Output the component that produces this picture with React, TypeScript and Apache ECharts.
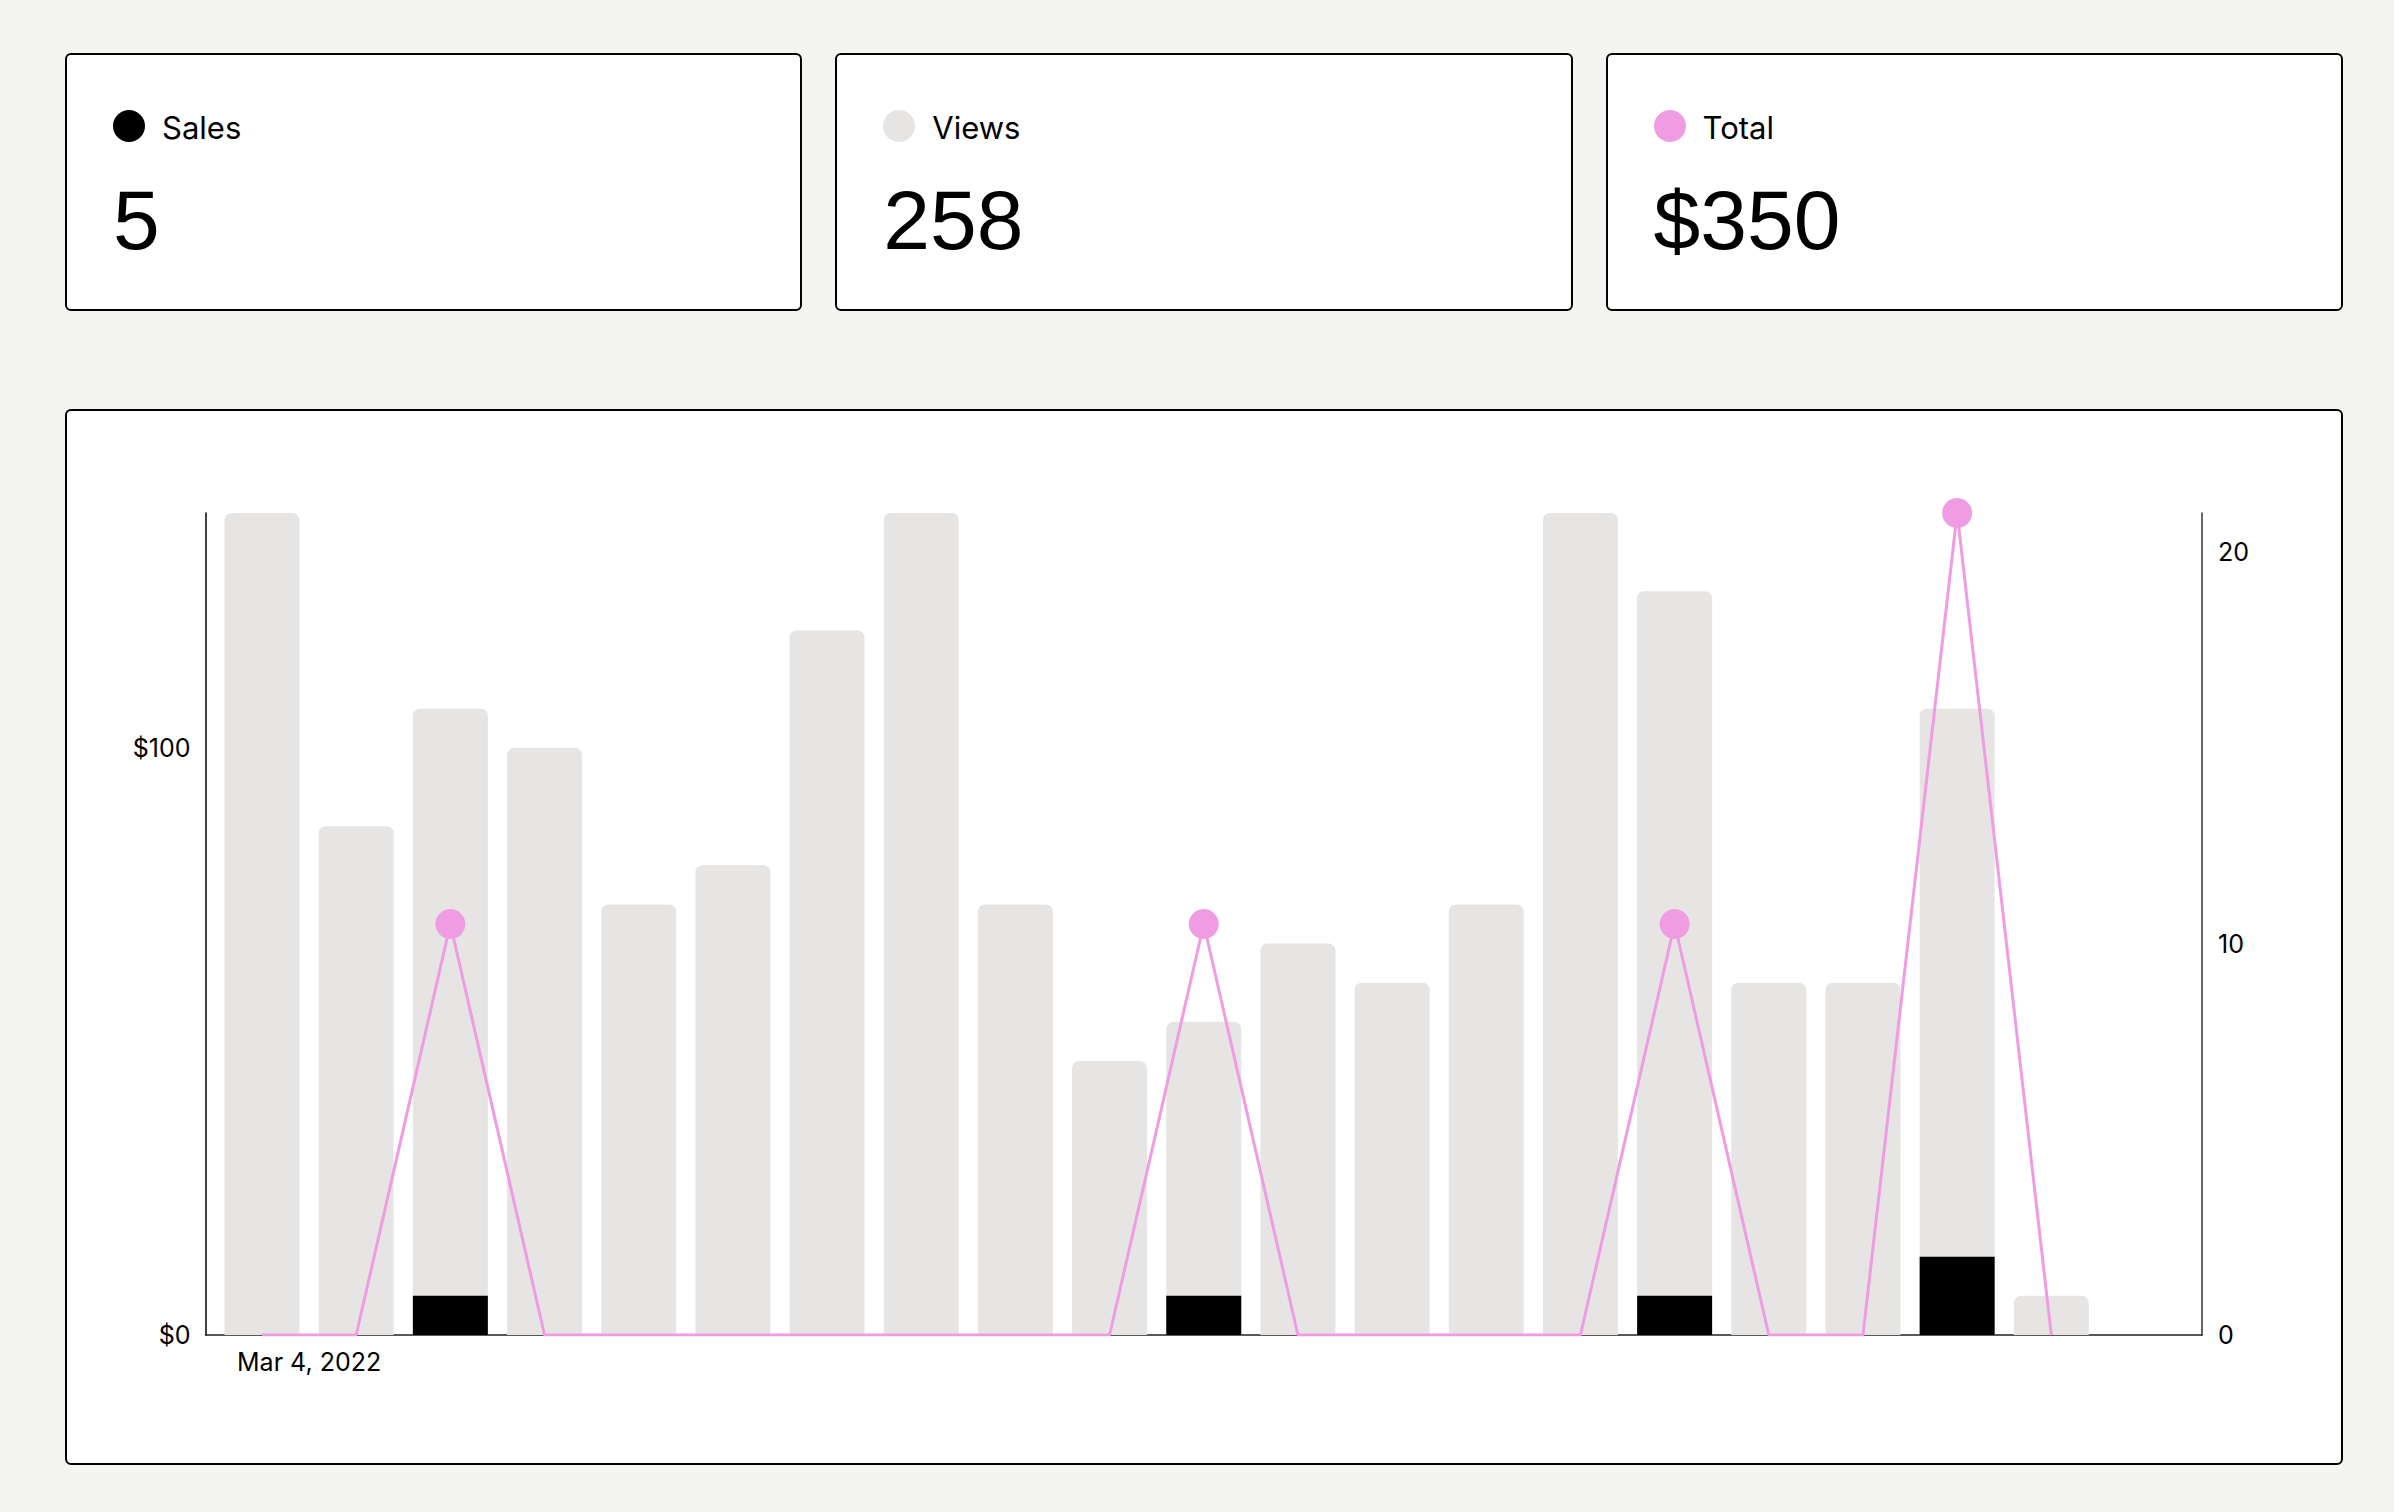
import React, { useEffect, useRef } from "react";
import * as echarts from "echarts";

// ---- data ----
const dayIndex = [0, 1, 2, 3, 4, 5, 6, 7, 8, 9, 10, 11, 12, 13, 14, 15, 16, 17, 18, 19];
const views = [21, 13, 16, 15, 11, 12, 18, 21, 11, 7, 8, 10, 9, 11, 21, 19, 9, 9, 16, 1];
const sales = [0, 0, 1, 0, 0, 0, 0, 0, 0, 0, 1, 0, 0, 0, 0, 1, 0, 0, 2, 0];
const totals = [0, 0, 70, 0, 0, 0, 0, 0, 0, 0, 70, 0, 0, 0, 0, 70, 0, 0, 140, 0];
const xLabelValues = [0.5];
const xLabelTexts = ["Mar 4, 2022"];
const leftTicks = [0, 100];
const rightTicks = [0, 10, 20];

const PINK = "#f09ce2";
const GRAY = "#e6e5e3";
const FONT = "Inter, 'Noto Sans', sans-serif";
const NUM_FONT = "'Liberation Sans', Arial, sans-serif";

const sum = (a: number[]) => a.reduce((s, v) => s + v, 0);
const summary = [
  { label: "Sales", value: String(sum(sales)), color: "#000000" },
  { label: "Views", value: String(sum(views)), color: GRAY },
  { label: "Total", value: "$" + sum(totals), color: PINK },
];

const CARD_LEFT = 65;
const CARD_W = 737.3;
const CARD_GAP = 33;

function Card({ left, item }: { left: number; item: (typeof summary)[number] }) {
  return (
    <div
      style={{
        position: "absolute",
        left,
        top: 53,
        width: CARD_W,
        height: 258,
        boxSizing: "border-box",
        border: "2px solid #000",
        borderRadius: 6,
        background: "#fff",
      }}
    >
      <div
        style={{
          position: "absolute",
          left: 46,
          top: 55,
          width: 32,
          height: 32,
          borderRadius: "50%",
          background: item.color,
        }}
      />
      <div
        style={{
          position: "absolute",
          left: 95,
          top: 57,
          fontSize: 31,
          lineHeight: "31px",
          fontFamily: FONT,
          color: "#000",
          whiteSpace: "nowrap",
        }}
      >
        {item.label}
      </div>
      <div
        style={{
          position: "absolute",
          left: 46,
          top: 123,
          fontSize: 84,
          lineHeight: "84px",
          fontFamily: NUM_FONT,
          color: "#000",
          whiteSpace: "nowrap",
        }}
      >
        {item.value}
      </div>
    </div>
  );
}

export default function App() {
  const ref = useRef<HTMLDivElement>(null);

  useEffect(() => {
    if (!ref.current) return;
    const chart = echarts.init(ref.current, null, { renderer: "svg" });
    const axisLabelBase = { color: "#000", fontSize: 25, fontFamily: FONT };
    chart.setOption({
      animation: false,
      textStyle: { fontFamily: FONT },
      grid: { left: 205.5, right: 192, top: 513, bottom: 177, containLabel: false },
      xAxis: {
        type: "value",
        min: -0.6,
        max: 20.6,
        splitLine: { show: false },
        axisTick: { show: false },
        axisLine: { show: true, onZero: false, lineStyle: { color: "#222", width: 1.5 } },
        axisLabel: {
          ...axisLabelBase,
          margin: 14,
          customValues: xLabelValues,
          formatter: (v: number) => {
            const i = xLabelValues.findIndex((x) => Math.abs(x - v) < 1e-6);
            return i >= 0 ? xLabelTexts[i] : "";
          },
        },
      },
      yAxis: [
        {
          type: "value",
          min: 0,
          max: 140,
          position: "left",
          splitLine: { show: false },
          axisTick: { show: false },
          axisLine: { show: true, onZero: false, lineStyle: { color: "#000", width: 1.5 } },
          axisLabel: {
            ...axisLabelBase,
            margin: 15,
            customValues: leftTicks,
            formatter: (v: number) => "$" + v,
          },
        },
        {
          type: "value",
          min: 0,
          max: 21,
          position: "right",
          splitLine: { show: false },
          axisTick: { show: false },
          axisLine: { show: true, onZero: false, lineStyle: { color: "#333", width: 1.5 } },
          axisLabel: {
            ...axisLabelBase,
            margin: 16,
            customValues: rightTicks,
            formatter: (v: number) => String(v),
          },
        },
      ],
      series: [
        {
          type: "bar",
          name: "Views",
          yAxisIndex: 1,
          data: views.map((v, i) => [dayIndex[i], v]),
          barWidth: 75,
          barGap: "-100%",
          itemStyle: { color: GRAY, borderRadius: [7, 7, 0, 0] },
          z: 2,
        },
        {
          type: "bar",
          name: "Sales",
          yAxisIndex: 1,
          data: sales.map((v, i) => [dayIndex[i], v]),
          barWidth: 75,
          barGap: "-100%",
          itemStyle: { color: "#000" },
          z: 3,
        },
        {
          type: "line",
          name: "Total",
          yAxisIndex: 0,
          data: totals.map((v, i) => [dayIndex[i], v]),
          lineStyle: { color: PINK, width: 3 },
          itemStyle: { color: PINK, borderWidth: 0 },
          symbol: "circle",
          symbolSize: (val: number[]) => (val[1] > 0 ? 30 : 0),
          showSymbol: true,
          z: 5,
        },
      ],
    });
    return () => chart.dispose();
  }, []);

  return (
    <div
      style={{
        position: "fixed",
        left: 0,
        top: 0,
        width: 2394,
        height: 1512,
        background: "#f4f4f0",
        overflow: "hidden",
      }}
    >
      {summary.map((item, i) => (
        <Card key={item.label} left={CARD_LEFT + i * (CARD_W + CARD_GAP)} item={item} />
      ))}
      <div
        style={{
          position: "absolute",
          left: 65,
          top: 409,
          width: 2278,
          height: 1056,
          boxSizing: "border-box",
          border: "2px solid #000",
          borderRadius: 6,
          background: "#fff",
        }}
      />
      <div ref={ref} style={{ position: "absolute", left: 0, top: 0, width: 2394, height: 1512 }} />
    </div>
  );
}
